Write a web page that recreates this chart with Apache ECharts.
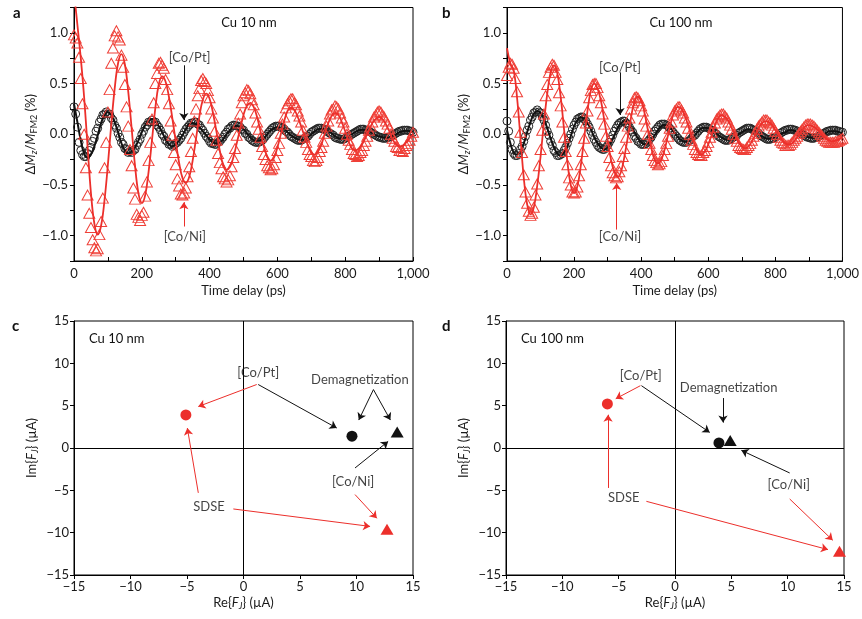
<!DOCTYPE html>
<html><head><meta charset="utf-8">
<script src="https://cdn.jsdelivr.net/npm/echarts@6/dist/echarts.min.js"></script>
<style>html,body{margin:0;padding:0;background:#fff}#c{width:862px;height:619px}</style>
</head><body><div id="c"></div>
<script>
// ---------- time grids (ps) ----------
const timeData = [0,5,10,15,20,25,30,35,40,45,50,55,60,65,70,75,80,85,90,95,
100,105,110,115,120,125,130,135,140,145,150,155,160,165,170,175,180,185,190,195,
200,205,210,215,220,225,230,235,240,245,250,255,260,265,270,275,280,285,290,295,
300,305,310,315,320,325,330,335,340,345,350,355,360,365,370,375,380,385,390,395,
400,405,410,415,420,425,430,435,440,445,450,455,460,465,470,475,480,485,490,495,
500,505,510,515,520,525,530,535,540,545,550,555,560,565,570,575,580,585,590,595,
600,605,610,615,620,625,630,635,640,645,650,655,660,665,670,675,680,685,690,695,
700,705,710,715,720,725,730,735,740,745,750,755,760,765,770,775,780,785,790,795,
800,805,810,815,820,825,830,835,840,845,850,855,860,865,870,875,880,885,890,895,
900,905,910,915,920,925,930,935,940,945,950,955,960,965,970,975,980,985,990,995,1000];
const timeFit = [0,10,20,30,40,50,60,70,80,90,100,110,120,130,140,150,160,170,180,190,
200,210,220,230,240,250,260,270,280,290,300,310,320,330,340,350,360,370,380,390,
400,410,420,430,440,450,460,470,480,490,500,510,520,530,540,550,560,570,580,590,
600,610,620,630,640,650,660,670,680,690,700,710,720,730,740,750,760,770,780,790,
800,810,820,830,840,850,860,870,880,890,900,910,920,930,940,950,960,970,980,990,1000];

// ---------- panel a (Cu 10 nm): ΔMz/MFM2 (%) ----------
const aCoNiData = [0.98,0.95,0.90,0.76,0.55,0.30,0.00,-0.33,-0.60,-0.78,-0.92,-1.04,-1.12,-1.15,
-1.13,-0.99,-0.86,-0.63,-0.33,-0.08,0.22,0.44,0.70,0.85,0.97,1.02,
0.96,0.93,0.78,0.66,0.49,0.27,0.08,-0.15,-0.31,-0.53,-0.64,-0.79,-0.82,-0.85,
-0.80,-0.77,-0.61,-0.47,-0.26,-0.08,0.15,0.31,0.50,0.60,0.70,0.71,
0.68,0.65,0.54,0.44,0.30,0.13,-0.01,-0.18,-0.30,-0.44,-0.51,-0.59,-0.60,
-0.58,-0.53,-0.42,-0.32,-0.17,-0.04,0.13,0.25,0.38,0.45,0.53,0.55,
0.52,0.50,0.43,0.36,0.25,0.16,0.03,-0.06,-0.19,-0.28,-0.34,-0.42,-0.44,-0.47,
-0.45,-0.41,-0.32,-0.23,-0.14,-0.01,0.11,0.20,0.31,0.38,0.41,0.44,
0.43,0.40,0.34,0.29,0.21,0.12,0.05,-0.03,-0.12,-0.20,-0.25,-0.31,-0.33,-0.35,
-0.34,-0.30,-0.23,-0.16,-0.09,0.01,0.10,0.17,0.26,0.30,0.33,0.35,
0.35,0.31,0.29,0.23,0.18,0.12,0.04,-0.03,-0.08,-0.15,-0.20,-0.22,-0.26,-0.27,
-0.26,-0.23,-0.17,-0.13,-0.07,0.01,0.08,0.13,0.20,0.24,0.25,0.28,
0.27,0.25,0.21,0.16,0.12,0.06,0.00,-0.06,-0.10,-0.15,-0.19,-0.20,-0.22,
-0.21,-0.18,-0.16,-0.11,-0.07,-0.02,0.04,0.08,0.12,0.17,0.19,0.22,0.23,
0.22,0.19,0.17,0.13,0.10,0.06,0.00,-0.04,-0.07,-0.12,-0.13,-0.16,-0.16,
-0.17,-0.14,-0.11,-0.09,-0.06,-0.02,0.02];
const aCoNiFit = [1.40,1.08,0.75,0.36,-0.12,-0.58,-0.88,-0.99,-0.90,-0.65,-0.30,0.10,0.45,0.70,0.79,
0.69,0.42,0.06,-0.31,-0.58,-0.68,-0.60,-0.37,-0.06,0.26,0.49,0.57,0.52,0.37,0.16,-0.07,-0.28,-0.43,-0.48,
-0.42,-0.26,-0.04,0.18,0.34,0.40,0.35,0.21,0.03,-0.16,-0.30,-0.35,-0.32,-0.23,-0.09,0.05,0.19,0.28,0.31,
0.27,0.17,0.03,-0.12,-0.22,-0.26,-0.23,-0.13,0.00,0.13,0.23,0.26,0.24,0.17,0.08,-0.02,-0.11,-0.18,-0.20,
-0.17,-0.10,0.01,0.11,0.18,0.21,0.19,0.12,0.03,-0.07,-0.14,-0.16,-0.14,-0.10,-0.03,0.04,0.11,0.15,0.17,
0.15,0.10,0.03,-0.05,-0.10,-0.12,-0.11,-0.08,-0.04,0.00];
const aCoPtData = [0.27,0.20,0.07,-0.08,-0.16,-0.20,-0.22,
-0.22,-0.19,-0.16,-0.13,-0.07,-0.04,0.03,0.06,0.12,0.15,0.19,0.20,0.22,
0.20,0.20,0.16,0.14,0.09,0.06,0.01,-0.03,-0.08,-0.10,-0.14,-0.15,-0.18,-0.17,
-0.18,-0.16,-0.15,-0.11,-0.08,-0.05,0.00,0.03,0.07,0.09,0.12,0.12,0.14,
0.12,0.12,0.09,0.07,0.04,0.00,-0.02,-0.06,-0.07,-0.10,-0.10,-0.12,
-0.11,-0.09,-0.08,-0.06,-0.04,-0.01,0.02,0.05,0.07,0.09,0.11,0.11,0.12,
0.12,0.10,0.09,0.06,0.04,0.01,-0.02,-0.04,-0.07,-0.09,-0.09,-0.10,
-0.10,-0.08,-0.07,-0.05,-0.03,0.00,0.02,0.05,0.06,0.08,0.09,0.09,
0.08,0.08,0.07,0.05,0.04,0.01,0.00,-0.03,-0.04,-0.06,-0.07,-0.08,-0.08,
-0.08,-0.07,-0.06,-0.04,-0.02,0.00,0.02,0.04,0.06,0.07,0.08,0.08,
0.08,0.07,0.06,0.05,0.03,0.02,0.00,-0.02,-0.03,-0.04,-0.05,-0.06,-0.06,
-0.06,-0.05,-0.04,-0.03,-0.02,0.00,0.02,0.03,0.04,0.05,0.06,0.06,
0.06,0.05,0.05,0.04,0.02,0.01,0.00,-0.01,-0.03,-0.04,-0.04,-0.05,-0.05,
-0.05,-0.04,-0.03,-0.02,-0.01,0.00,0.01,0.02,0.03,0.04,0.05,0.05,
0.05,0.04,0.04,0.03,0.02,0.01,0.00,-0.01,-0.02,-0.03,-0.03,-0.04,-0.04,
-0.04,-0.03,-0.03,-0.02,-0.01,0.00,0.01,0.02,0.03,0.03,0.04,0.04,
0.04,0.04,0.03,0.03,0.02];
const aCoPtFit = [0.30,0.12,-0.06,-0.19,-0.23,-0.20,-0.12,-0.01,0.11,0.19,0.22,0.19,0.12,0.02,-0.09,-0.16,-0.19,
-0.17,-0.13,-0.06,0.02,0.09,0.13,0.15,0.13,0.08,0.02,-0.05,-0.10,-0.12,-0.10,-0.06,-0.01,0.05,0.10,0.11,
0.10,0.07,0.03,-0.01,-0.05,-0.08,-0.09,-0.08,-0.05,0.00,0.04,0.07,0.085,0.07,0.05,0.01,-0.03,-0.06,-0.07,
-0.06,-0.04,0.00,0.04,0.06,0.07,0.06,0.05,0.02,-0.01,-0.03,-0.05,-0.055,-0.05,-0.03,0.00,0.03,0.05,0.055,
0.05,0.03,0.01,-0.02,-0.04,-0.045,-0.04,-0.02,0.00,0.02,0.04,0.045,0.04,0.03,0.01,-0.01,-0.02,-0.03,-0.035,
-0.03,-0.02,0.00,0.02,0.03,0.035,0.03,0.02];

// ---------- panel b (Cu 100 nm) ----------
const bCoNiData = [0.58,0.66,0.70,0.69,0.65,0.55,0.42,0.22,0.02,-0.18,-0.40,-0.57,-0.68,-0.76,-0.80,
-0.78,-0.72,-0.60,-0.49,-0.31,-0.15,0.04,0.20,0.38,0.49,0.61,0.66,0.69,
0.68,0.61,0.54,0.41,0.28,0.12,-0.03,-0.17,-0.30,-0.43,-0.50,-0.57,-0.58,
-0.57,-0.52,-0.41,-0.30,-0.17,-0.04,0.11,0.23,0.36,0.43,0.49,0.50,
0.50,0.46,0.38,0.31,0.20,0.10,-0.02,-0.12,-0.23,-0.31,-0.38,-0.41,-0.43,
-0.42,-0.37,-0.31,-0.22,-0.14,-0.03,0.08,0.16,0.25,0.31,0.36,0.37,
0.36,0.33,0.28,0.23,0.15,0.08,0.00,-0.09,-0.15,-0.21,-0.26,-0.28,-0.30,
-0.29,-0.27,-0.21,-0.15,-0.09,-0.02,0.06,0.12,0.19,0.23,0.25,0.27,
0.27,0.24,0.21,0.16,0.12,0.06,0.00,-0.06,-0.10,-0.15,-0.18,-0.20,-0.21,
-0.21,-0.18,-0.16,-0.12,-0.08,-0.03,0.02,0.07,0.11,0.15,0.17,0.19,0.20,
0.20,0.18,0.16,0.12,0.09,0.05,0.00,-0.04,-0.07,-0.11,-0.13,-0.14,-0.15,
-0.15,-0.13,-0.11,-0.09,-0.06,-0.02,0.01,0.05,0.08,0.10,0.12,0.14,0.14,
0.14,0.12,0.11,0.09,0.06,0.03,0.00,-0.03,-0.06,-0.08,-0.09,-0.11,-0.11,
-0.11,-0.10,-0.08,-0.06,-0.04,-0.02,0.01,0.03,0.05,0.07,0.09,0.10,0.10,
0.10,0.09,0.08,0.06,0.04,0.02,0.00,-0.02,-0.04,-0.06,-0.07,-0.08,-0.08,
-0.08,-0.08,-0.07,-0.07,-0.06,-0.05,-0.04];
const bCoNiFit = [0.85,0.70,0.63,0.36,-0.03,-0.43,-0.69,-0.79,
-0.72,-0.51,-0.22,0.11,0.40,0.61,0.68,
0.60,0.37,0.05,-0.27,-0.50,-0.58,
-0.51,-0.31,-0.04,0.23,0.43,0.50,
0.45,0.33,0.14,-0.06,-0.25,-0.37,-0.42,
-0.37,-0.22,-0.03,0.17,0.32,0.37,
0.33,0.21,0.04,-0.13,-0.25,-0.29,
-0.25,-0.15,-0.01,0.13,0.23,0.27,
0.25,0.18,0.09,-0.02,-0.11,-0.18,-0.20,
-0.17,-0.10,-0.01,0.09,0.16,0.19,
0.17,0.13,0.06,-0.01,-0.08,-0.12,-0.14,
-0.12,-0.07,-0.01,0.06,0.11,0.13,
0.12,0.09,0.04,-0.01,-0.06,-0.09,-0.10,
-0.09,-0.05,-0.01,0.04,0.08,0.09,
0.08,0.06,0.03,-0.01,-0.04,-0.06,-0.07,
-0.06,-0.05,-0.03];
const bCoPtData = [0.13,0.03,-0.08,-0.15,-0.19,-0.21,
-0.21,-0.19,-0.15,-0.12,-0.07,-0.02,0.04,0.08,0.14,0.17,0.21,0.22,0.24,
0.22,0.21,0.17,0.14,0.09,0.03,-0.01,-0.07,-0.11,-0.16,-0.18,-0.21,-0.21,
-0.20,-0.19,-0.16,-0.13,-0.09,-0.04,0.00,0.05,0.09,0.12,0.15,0.16,0.17,
0.17,0.15,0.13,0.10,0.07,0.03,-0.01,-0.05,-0.08,-0.11,-0.13,-0.14,-0.15,
-0.15,-0.13,-0.11,-0.08,-0.05,-0.01,0.03,0.06,0.09,0.11,0.12,0.13,
0.13,0.11,0.10,0.07,0.04,0.02,-0.02,-0.04,-0.07,-0.08,-0.10,-0.10,
-0.10,-0.09,-0.07,-0.05,-0.03,0.00,0.03,0.05,0.07,0.09,0.10,0.10,
0.10,0.09,0.08,0.06,0.04,0.02,0.00,-0.02,-0.04,-0.06,-0.07,-0.08,-0.08,
-0.08,-0.07,-0.06,-0.04,-0.02,-0.01,0.01,0.03,0.05,0.06,0.07,0.07,
0.07,0.06,0.05,0.04,0.03,0.01,0.00,-0.02,-0.03,-0.04,-0.05,-0.06,-0.06,
-0.06,-0.05,-0.04,-0.03,-0.02,-0.01,0.01,0.02,0.03,0.04,0.05,0.06,0.06,
0.06,0.05,0.04,0.03,0.02,0.01,-0.01,-0.02,-0.03,-0.04,-0.05,-0.05,
-0.05,-0.04,-0.04,-0.03,-0.02,-0.01,0.01,0.02,0.03,0.04,0.04,0.05,0.05,
0.05,0.04,0.04,0.03,0.02,0.01,0.00,-0.01,-0.02,-0.03,-0.03,-0.04,-0.04,
-0.04,-0.03,-0.03,-0.02,-0.01,0.00,0.01,0.02,0.03,0.03,0.04,0.04,
0.04,0.04,0.03,0.03,0.02,0.02];
const bCoPtFit = [0.04,-0.09,-0.18,-0.20,
-0.17,-0.09,0.02,0.12,0.20,0.23,
0.21,0.15,0.06,-0.04,-0.13,-0.19,-0.21,
-0.18,-0.12,-0.02,0.08,0.14,0.17,
0.15,0.11,0.05,-0.03,-0.09,-0.13,-0.15,
-0.13,-0.08,-0.01,0.06,0.11,0.13,
0.11,0.07,0.02,-0.04,-0.08,-0.10,
-0.09,-0.05,-0.01,0.04,0.08,0.09,
0.08,0.05,0.01,-0.03,-0.06,-0.075,
-0.07,-0.04,-0.01,0.03,0.06,0.065,
0.06,0.04,0.02,-0.01,-0.03,-0.05,-0.055,
-0.05,-0.03,0.00,0.02,0.04,0.05,
0.04,0.03,0.00,-0.02,-0.04,-0.045,
-0.04,-0.03,-0.01,0.01,0.02,0.04,0.04,
0.03,0.02,0.00,-0.02,-0.03,-0.035,
-0.03,-0.02,0.00,0.01,0.03,0.03,
0.03,0.02,0.01];

// ---------- panels c, d: [Re, Im] of F_J (µA); first = [Co/Pt], second = [Co/Ni] ----------
const cSDSE = [[-5.1, 3.9], [12.7, -9.6]];
const cDemag = [[9.6, 1.4], [13.6, 1.9]];
const dSDSE = [[-6.0, 5.2], [14.6, -12.2]];
const dDemag = [[3.9, 0.6], [4.9, 0.9]];

// ---------- annotations (data coordinates) ----------
const labelsA = [['[Co/Pt]', 341, 0.75], ['[Co/Ni]', 327, -1.01]];
const arrowsA = [[324, 0.68, 324, 0.14, 'k'], [324, -0.91, 324, -0.67, 'r']];
const labelsB = [['[Co/Pt]', 337, 0.66], ['[Co/Ni]', 337, -1.01]];
const arrowsB = [[337, 0.61, 337, 0.19, 'k'], [327, -0.94, 327, -0.48, 'r']];
const labelsC = [['[Co/Pt]', 1.3, 8.9], ['Demagnetization', 10.3, 8.1], ['[Co/Ni]', 9.7, -3.95], ['SDSE', -3.05, -6.9]];
const arrowsC = [[1.17, 7.5, -4.0, 4.9, 'r'], [1.3, 7.5, 8.25, 2.36, 'k'], [11.5, 6.9, 10.2, 3.3, 'k'],
  [11.5, 6.9, 13.0, 3.3, 'k'], [9.87, -2.36, 12.8, 0.78, 'k'], [9.87, -5.5, 11.8, -8.3, 'r'],
  [-4.0, -5.3, -4.97, 2.36, 'r'], [-0.9, -7.2, 11.2, -9.26, 'r']];
const labelsD = [['[Co/Pt]', -3.04, 8.54], ['Demagnetization', 4.76, 7.12], ['[Co/Ni]', 10.1, -4.33], ['SDSE', -4.55, -5.87]];
const arrowsD = [[-3.07, 7.36, -5.26, 5.82, 'r'], [-2.98, 7.36, 3.08, 1.84, 'k'], [4.26, 5.9, 4.26, 3.0, 'k'],
  [10.18, -2.95, 5.89, -0.28, 'k'], [10.18, -6.02, 14.0, -10.9, 'r'], [-5.94, -4.72, -5.94, 3.93, 'r'],
  [-2.54, -6.3, 13.58, -12.0, 'r']];

// ---------- styling ----------
const F = 'Lato, "Open Sans", "DejaVu Sans", sans-serif';
const RED = '#ec2f2b', RED_M = '#ef4038', BLK = '#121212';
const colorOf = k => (k === 'r' ? RED : BLK);
const pairs = (ts, vs) => vs.map((v, i) => [ts[i], v]);
const minus = s => s.replace('-', '\u2212');

const richName = {
  t: { fontFamily: F, fontSize: 13, color: '#1a1a1a', lineHeight: 16 },
  i: { fontFamily: F, fontSize: 13, color: '#1a1a1a', fontStyle: 'italic', lineHeight: 16 },
  s: { fontFamily: F, fontSize: 9, color: '#1a1a1a', fontStyle: 'normal', padding: [6, 0, 0, 0], verticalAlign: 'bottom' },
  si: { fontFamily: F, fontSize: 9, color: '#1a1a1a', fontStyle: 'italic', padding: [6, 0, 0, 0], verticalAlign: 'bottom' }
};

function timeXAxis(gi) {
  return {
    gridIndex: gi, type: 'value', min: 0, max: 1000, interval: 200,
    name: 'Time delay (ps)', nameLocation: 'middle', nameGap: 23,
    nameTextStyle: { fontFamily: F, fontSize: 13, color: '#1a1a1a' },
    axisLine: { show: true, onZero: false, lineStyle: { color: '#000', width: 1 } },
    axisTick: { show: true, inside: true, length: 4, lineStyle: { color: '#000' } },
    minorTick: { show: true, splitNumber: 2, length: 4, lineStyle: { color: '#000' } },
    splitLine: { show: false },
    axisLabel: { fontFamily: F, fontSize: 13, color: '#1a1a1a', margin: 6,
      formatter: v => (v === 1000 ? '1,000' : String(v)) }
  };
}
function dmYAxis(gi) {
  return {
    gridIndex: gi, type: 'value', min: -1.25, max: 1.25, interval: 0.25,
    name: '{t|\u0394}{i|M}{si|z}{t|/}{i|M}{s|FM2}{t| (%)}', nameLocation: 'middle', nameGap: 34,
    nameTextStyle: { fontFamily: F, fontSize: 13, color: '#1a1a1a', rich: richName },
    axisLine: { show: true, onZero: false, lineStyle: { color: '#000', width: 1 } },
    axisTick: { show: true, inside: false, length: 4, lineStyle: { color: '#000' } },
    splitLine: { show: false },
    axisLabel: { fontFamily: F, fontSize: 13, color: '#1a1a1a', margin: 6,
      formatter: v => {
        const q = Math.round(v * 4);
        if (q % 2 !== 0 || Math.abs(v) > 1.01) return '';
        return minus(v.toFixed(1));
      } }
  };
}
function fAxis(gi, isX) {
  return {
    gridIndex: gi, type: 'value', min: -15, max: 15, interval: 5,
    name: isX ? 'Re{{i|F}{si|J}} (\u00b5A)' : 'Im{{i|F}{si|J}} (\u00b5A)',
    nameLocation: 'middle', nameGap: isX ? 20 : 34,
    nameTextStyle: { fontFamily: F, fontSize: 13, color: '#1a1a1a', rich: richName },
    axisLine: { show: true, onZero: false, lineStyle: { color: '#000', width: 1 } },
    axisTick: { show: true, inside: false, length: 4, lineStyle: { color: '#000' } },
    splitLine: { show: false },
    axisLabel: { fontFamily: F, fontSize: 13, color: '#1a1a1a', margin: 5,
      formatter: v => minus(String(v)) }
  };
}

function labelSeries(gi, labels, arrows) {
  return {
    type: 'scatter', xAxisIndex: gi, yAxisIndex: gi, symbolSize: 1, silent: true, z: 5,
    itemStyle: { color: 'rgba(0,0,0,0)' },
    label: { show: true, position: 'inside', formatter: p => p.data.name,
      fontFamily: F, fontSize: 13, color: '#111' },
    data: labels.map(l => ({ name: l[0], value: [l[1], l[2]] })),
    markLine: {
      silent: true, animation: false, symbol: ['none', 'arrow'], symbolSize: 7,
      label: { show: false },
      lineStyle: { width: 1, type: 'solid' },
      data: arrows.map(a => [
        { coord: [a[0], a[1]], lineStyle: { color: colorOf(a[4]), width: 1, type: 'solid' }, itemStyle: { color: colorOf(a[4]) } },
        { coord: [a[2], a[3]] }
      ])
    }
  };
}

function timeSeries(gi, ptData, ptFit, niData, niFit) {
  return [
    { type: 'scatter', xAxisIndex: gi, yAxisIndex: gi, symbol: 'circle', symbolSize: 8, z: 2,
      itemStyle: { color: 'rgba(0,0,0,0)', borderColor: '#252525', borderWidth: 1, opacity: 1 },
      data: pairs(timeData, ptData) },
    { type: 'line', xAxisIndex: gi, yAxisIndex: gi, showSymbol: false, smooth: 0.4, z: 3,
      lineStyle: { color: BLK, width: 2 }, data: pairs(timeFit, ptFit) },
    { type: 'scatter', xAxisIndex: gi, yAxisIndex: gi, symbol: 'triangle', symbolSize: [11, 10], z: 3,
      itemStyle: { color: 'rgba(0,0,0,0)', borderColor: RED_M, borderWidth: 1, opacity: 1 },
      data: pairs(timeData, niData) },
    { type: 'line', xAxisIndex: gi, yAxisIndex: gi, showSymbol: false, smooth: 0.4, z: 4,
      lineStyle: { color: RED, width: 1.8 }, data: pairs(timeFit, niFit) }
  ];
}

function pointSeries(gi, sdse, demag) {
  const mk = (v, i, col) => ({ value: v, symbol: i === 0 ? 'circle' : 'triangle',
    symbolSize: i === 0 ? 11 : [13, 11], itemStyle: { color: col, opacity: 1 } });
  return {
    type: 'scatter', xAxisIndex: gi, yAxisIndex: gi, z: 4,
    itemStyle: { opacity: 1 },
    data: sdse.map((v, i) => mk(v, i, RED)).concat(demag.map((v, i) => mk(v, i, BLK))),
    markLine: {
      silent: true, animation: false, symbol: 'none', label: { show: false },
      lineStyle: { color: '#000', width: 1, type: 'solid' },
      data: [{ xAxis: 0 }, { yAxis: 0 }]
    }
  };
}

const chart = echarts.init(document.getElementById('c'), null, { renderer: 'canvas' });
const gridBase = { show: true, borderColor: '#000', borderWidth: 1, backgroundColor: 'rgba(0,0,0,0)' };
const titleStyle = { fontFamily: F, fontSize: 13, fontWeight: 'normal', color: '#111' };
const letterStyle = { fontFamily: F, fontSize: 15, fontWeight: 'bold', color: '#111' };

chart.setOption({
  animation: false,
  backgroundColor: '#fff',
  title: [
    { text: 'a', left: 8, top: 1, textStyle: letterStyle },
    { text: 'b', left: 437, top: 1, textStyle: letterStyle },
    { text: 'c', left: 7, top: 314, textStyle: letterStyle },
    { text: 'd', left: 437, top: 314, textStyle: letterStyle },
    { text: 'Cu 10 nm', left: 244, top: 11, textAlign: 'center', textStyle: titleStyle },
    { text: 'Cu 100 nm', left: 676, top: 11, textAlign: 'center', textStyle: titleStyle },
    { text: 'Cu 10 nm', left: 84, top: 327, textStyle: titleStyle },
    { text: 'Cu 100 nm', left: 516, top: 327, textStyle: titleStyle }
  ],
  grid: [
    Object.assign({ left: 74, right: 449, top: 7.5, bottom: 358 }, gridBase),
    Object.assign({ left: 507, right: 18, top: 7.5, bottom: 358 }, gridBase),
    Object.assign({ left: 74, right: 449, top: 321, bottom: 44 }, gridBase),
    Object.assign({ left: 506, right: 18, top: 321, bottom: 44 }, gridBase)
  ],
  xAxis: [timeXAxis(0), timeXAxis(1), fAxis(2, true), fAxis(3, true)],
  yAxis: [dmYAxis(0), dmYAxis(1), fAxis(2, false), fAxis(3, false)],
  series: [].concat(
    timeSeries(0, aCoPtData, aCoPtFit, aCoNiData, aCoNiFit),
    timeSeries(1, bCoPtData, bCoPtFit, bCoNiData, bCoNiFit),
    [pointSeries(2, cSDSE, cDemag), pointSeries(3, dSDSE, dDemag)],
    [labelSeries(0, labelsA, arrowsA), labelSeries(1, labelsB, arrowsB),
     labelSeries(2, labelsC, arrowsC), labelSeries(3, labelsD, arrowsD)]
  )
});
</script></body></html>
